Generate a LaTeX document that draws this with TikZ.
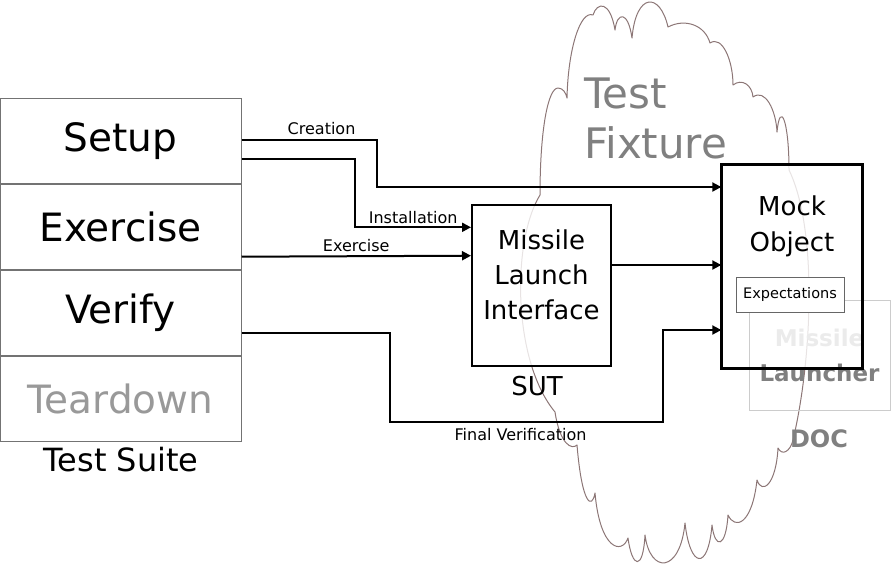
\documentclass[tikz,border=0pt]{standalone}
\usepackage{fontspec}
\setmainfont{DejaVu Sans}
\usetikzlibrary{arrows.meta,calc}
\definecolor{cloudc}{RGB}{140,118,118}
\begin{document}
\begin{tikzpicture}[x=1pt,y=-1pt,
  stage/.style={draw=black!55, line width=1pt, minimum width=241pt, minimum height=85pt, inner sep=0pt, font=\fontsize{39}{47}\selectfont},
  lbl/.style={font=\fontsize{16}{19}\selectfont, inner sep=0pt},
  arr/.style={line width=2pt, -{Triangle[length=9pt,width=9pt]}},
  txt26/.style={align=center, font=\fontsize{26}{35}\selectfont, inner sep=0pt}
]
\useasboundingbox (0,0) rectangle (891,566);
% cloud (test fixture)
\draw[cloudc, line width=1pt, line join=round]
 (555,412) .. controls (512,360) and (512,240) .. (540,195)
 .. controls (540,130) and (548,88) .. (558,88)
 .. controls (563,88) and (566,93) .. (567,98)
 .. controls (568,50) and (580,10) .. (593,15)
 .. controls (597,2) and (610,0) .. (615,30)
 .. controls (617,12) and (628,10) .. (632,38)
 .. controls (636,-8) and (660,-8) .. (668,27)
 .. controls (685,18) and (705,25) .. (710,43)
 .. controls (722,35) and (733,60) .. (733,85)
 .. controls (742,78) and (752,85) .. (753,97)
 .. controls (765,88) and (776,110) .. (777,132)
 .. controls (780,100) and (789,120) .. (789,170)
 .. controls (818,230) and (812,360) .. (793,440)
 .. controls (790,452) and (782,456) .. (778,448)
 .. controls (776,485) and (762,495) .. (757,480)
 .. controls (752,525) and (735,530) .. (728,515)
 .. controls (726,548) and (715,550) .. (712,525)
 .. controls (708,572) and (690,568) .. (685,523)
 .. controls (680,574) and (650,574) .. (645,535)
 .. controls (643,572) and (632,568) .. (628,538)
 .. controls (622,555) and (600,550) .. (595,493)
 .. controls (592,510) and (582,505) .. (577,445)
 .. controls (572,450) and (560,445) .. (555,412) -- cycle;
\node[anchor=west, align=left, text=black!50, font=\fontsize{42}{50}\selectfont, inner sep=0pt] (fixture) at (584,118) {Test\\Fixture};

% test suite stack
\node[stage] (setup) at (120.5,140.8) {Setup};
\node[stage, anchor=north] (exercise) at (setup.south) {Exercise};
\node[stage, anchor=north] (verify) at (exercise.south) {Verify};
\node[stage, anchor=north, text=black!40] (teardown) at (verify.south) {Teardown};
\node[font=\fontsize{32}{38}\selectfont] (suite) at (121,460) {Test Suite};

% SUT
\node[draw, line width=2pt, fill=white, fill opacity=0.8, minimum width=139pt, minimum height=161pt] (sut) at (541.5,285.5) {};
\node[txt26] (suttxt) at (541.5,275) {Missile\\Launch\\Interface};
\node[font=\fontsize{26}{31}\selectfont] (sutlbl) at (537,386) {SUT};

% mock object and DOC
\node[fill=white, fill opacity=0.8, minimum width=141pt, minimum height=203pt, inner sep=0pt] (mock) at (792,266.5) {};
\node[draw=black!20, line width=1pt, minimum width=141pt, minimum height=110pt, align=center, inner sep=0pt, font=\bfseries\fontsize{23}{35}\selectfont] (ml) at (819.5,355) {\textcolor{black!8}{Missile}\\\textcolor{black!50}{Launcher}};
\draw[line width=3pt] (mock.north west) rectangle (mock.south east);
\node[align=center, font=\fontsize{26}{36}\selectfont, inner sep=0pt] (mocktxt) at (792,226) {Mock\\Object};
\node[draw=black!60, line width=1pt, fill=white, minimum width=108pt, minimum height=35pt, inner sep=0pt, font=\fontsize{14.5}{17}\selectfont] (expect) at (790,294.5) {Expectations};
\node[font=\bfseries\fontsize{24}{29}\selectfont, text=black!50] (doc) at (819,439) {DOC};

% connectors
\draw[arr] ($(setup.east)+(0,-1.3)$) -- node[lbl, above=4pt, pos=0.59]{Creation} ++(135.7,0) |- ($(mock.west)+(0,-79.5)$);
\draw[arr] ($(setup.east)+(0,18.5)$) -- ++(113.8,0) |- node[lbl, above=3pt, pos=0.75]{Installation} ($(sut.west)+(0,-58.2)$);
\draw[arr] ($(exercise.east)+(0,29.9)$) -- node[lbl, above=3pt]{Exercise} ($(sut.west)+(0,-29.8)$);
\draw[arr] ($(sut.east)+(0,-20.5)$) -- ($(mock.west)+(0,-1.5)$);
\draw[arr] ($(verify.east)+(0,20.2)$) -- ++(148,0) -- ++(0,89) -- node[lbl, below=5pt, pos=0.48]{Final Verification} ++(273,0) |- ($(mock.west)+(0,63.5)$);
\end{tikzpicture}
\end{document}
